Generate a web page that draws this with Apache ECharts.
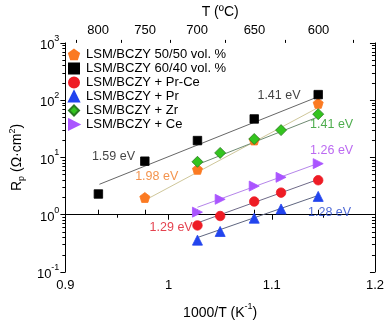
<!DOCTYPE html>
<html><head><meta charset="utf-8">
<script src="https://cdn.jsdelivr.net/npm/echarts@6/dist/echarts.min.js"></script>
<style>html,body{margin:0;padding:0;background:#fff}#c{width:387px;height:325px}</style>
</head><body><div id="c"></div>
<script>
// ---- data ----
const seriesNames = ['LSM/BCZY 50/50 vol. %','LSM/BCZY 60/40 vol. %','LSM/BCZY + Pr-Ce','LSM/BCZY + Pr','LSM/BCZY + Zr','LSM/BCZY + Ce'];

const x5050 = [0.977, 1.028, 1.083, 1.145];
const y5050 = [2.0, 6.2, 20.2, 88];
const x6040 = [0.932, 0.977, 1.028, 1.083, 1.145];
const y6040 = [2.3, 8.6, 19.7, 47, 125];
const xDoped = [1.028, 1.050, 1.083, 1.109, 1.145];
const yPrCe = [0.65, 0.95, 1.70, 2.43, 4.0];
const yPr   = [0.36, 0.51, 0.87, 1.26, 2.09];
const yZr   = [8.4, 12.0, 21, 30, 57];
const yCe   = [1.11, 1.86, 3.16, 4.5, 7.8];

// fitted lines (end points)
const fit5050X = [0.981, 1.146], fit5050Y = [1.95, 76];
const fit6040X = [0.933, 1.145], fit6040Y = [3.4, 115];
const fitPrCeX = [1.028, 1.146], fitPrCeY = [0.72, 4.2];
const fitPrX   = [1.028, 1.146], fitPrY   = [0.40, 2.2];
const fitZrX   = [1.028, 1.146], fitZrY   = [7.5, 52];
const fitCeX   = [1.028, 1.146], fitCeY   = [1.35, 8.0];

// activation energy annotations
const annoText = ['1.59 eV','1.98 eV','1.41 eV','1.41 eV','1.26 eV','1.28 eV','1.29 eV'];
const annoX    = [0.9466, 0.9885, 1.107, 1.158, 1.158, 1.156, 1.0025];
const annoY    = [10.2, 4.7, 121, 38, 13.4, 1.08, 0.605];
const annoColor= ['#111111','#f07820','#111111','#229922','#aa44ee','#2244cc','#dd1122'];

// top axis temperatures (ºC)
const topTemps = [800, 750, 700, 650, 600];
const topTempsMinor = [825, 775, 725, 675, 625, 575];

// ---- helpers ----
const toInvT = t => 1000 / (t + 273.15);
const pts = (xs, ys) => xs.map((v, i) => [v, ys[i]]);
const pentagon = 'path://M0,-10 L9.51,-3.09 L5.88,8.09 L-5.88,8.09 L-9.51,-3.09 Z';
const rightTri = 'path://M0,0 L10,5 L0,10 Z';
const FONT = 'Liberation Sans, Arial, sans-serif';

const groups = [
  {name: seriesNames[0], x: x5050, y: y5050, symbol: pentagon, size: 10, color: '#fb7a22', border: '#fb7a22', fx: fit5050X, fy: fit5050Y, fc: '#cfc79a'},
  {name: seriesNames[1], x: x6040, y: y6040, symbol: 'rect', size: 8.5, color: '#000000', border: '#000000', fx: fit6040X, fy: fit6040Y, fc: '#666666'},
  {name: seriesNames[2], x: xDoped, y: yPrCe, symbol: 'circle', size: 9.5, color: '#ee1c25', border: '#ee1c25', fx: fitPrCeX, fy: fitPrCeY, fc: '#6f6a88'},
  {name: seriesNames[3], x: xDoped, y: yPr, symbol: 'triangle', size: 10, color: '#2244ee', border: '#2244ee', fx: fitPrX, fy: fitPrY, fc: '#5f6680'},
  {name: seriesNames[4], x: xDoped, y: yZr, symbol: 'diamond', size: 11, color: '#33c41e', border: '#2a7a22', fx: fitZrX, fy: fitZrY, fc: '#6f8a72'},
  {name: seriesNames[5], x: xDoped, y: yCe, symbol: rightTri, size: 10, color: '#aa55ff', border: '#aa55ff', fx: fitCeX, fy: fitCeY, fc: '#b585ea'}
];

const series = [];
groups.forEach(g => {
  series.push({
    type: 'line', data: pts(g.fx, g.fy), symbol: 'none', silent: true, z: 2,
    lineStyle: {color: g.fc, width: 1}, xAxisIndex: 0, yAxisIndex: 0
  });
});
groups.forEach(g => {
  series.push({
    name: g.name, type: 'scatter', data: pts(g.x, g.y), symbol: g.symbol, symbolSize: g.size, z: 3,
    itemStyle: {color: g.color, borderColor: g.border, borderWidth: 0.8, opacity: 1},
    xAxisIndex: 0, yAxisIndex: 0
  });
});
series.push({
  type: 'scatter', silent: true, z: 4, symbolSize: 1, itemStyle: {color: 'transparent'},
  data: annoText.map((t, i) => ({name: t, value: [annoX[i], annoY[i]], label: {color: annoColor[i]}})),
  label: {show: true, position: 'inside', formatter: p => p.name, fontSize: 12.5, fontFamily: FONT}
});

const lineBlack = {lineStyle: {color: '#000', width: 1}};
const yMinor = [];
for (let n = -1; n < 3; n++) for (let k = 2; k <= 9; k++) yMinor.push(n + Math.log10(k));

const supLabel = v => {
  const e = Math.round(Math.log10(v));
  return '{b|10}{e|' + e + '}';
};
const supRich = {
  b: {fontSize: 13, fontFamily: FONT, color: '#000', lineHeight: 18, verticalAlign: 'bottom'},
  e: {fontSize: 9, fontFamily: FONT, color: '#000', lineHeight: 8, verticalAlign: 'top'}
};

const option = {
  animation: false,
  backgroundColor: '#fff',
  textStyle: {fontFamily: FONT},
  grid: {left: 55, right: 9, top: 38, bottom: 49},
  legend: {
    orient: 'vertical', left: 63, top: 43, itemWidth: 10, itemHeight: 10, itemGap: 1,
    data: seriesNames,
    textStyle: {fontSize: 13, color: '#000', fontFamily: FONT, padding: [0, 0, 0, 2]}
  },
  xAxis: [
    {
      type: 'value', position: 'bottom', min: 0.9, max: 1.2, interval: 0.1,
      axisLine: lineBlack, axisTick: {length: 5, lineStyle: {color: '#000'}},
      minorTick: {show: true, splitNumber: 2, length: 3, lineStyle: {color: '#000'}},
      axisLabel: {color: '#000', fontSize: 13, margin: 7, fontFamily: FONT, formatter: v => String(+v.toFixed(2))},
      splitLine: {show: false}, minorSplitLine: {show: false},
      name: '{a|1000/T (K}{s|-1}{a|)}', nameLocation: 'middle', nameGap: 30,
      nameTextStyle: {rich: {
        a: {fontSize: 14, fontFamily: FONT, color: '#000', lineHeight: 18, verticalAlign: 'bottom'},
        s: {fontSize: 9, fontFamily: FONT, color: '#000', lineHeight: 8, verticalAlign: 'top'}
      }}
    },
    {
      type: 'value', position: 'top', min: 0.9, max: 1.2,
      axisLine: lineBlack,
      axisTick: {length: 5, customValues: topTemps.map(toInvT), lineStyle: {color: '#000'}},
      axisLabel: {customValues: topTemps.map(toInvT), color: '#000', fontSize: 13, margin: 6, fontFamily: FONT,
        formatter: v => String(Math.round(1000 / v - 273.15))},
      splitLine: {show: false},
      name: 'T (ºC)', nameLocation: 'middle', nameGap: 22,
      nameTextStyle: {fontSize: 14, color: '#000', fontFamily: FONT}
    },
    {
      type: 'value', position: 'top', min: 0.9, max: 1.2,
      axisLine: {show: false},
      axisTick: {length: 3, customValues: topTempsMinor.map(toInvT), lineStyle: {color: '#000'}},
      axisLabel: {show: false}, splitLine: {show: false}
    }
  ],
  yAxis: [
    {
      type: 'log', position: 'left', min: 0.1, max: 1000, logBase: 10,
      axisLine: {show: true, lineStyle: {color: '#000', width: 1}},
      axisTick: {show: true, length: 5, lineStyle: {color: '#000'}},
      axisLabel: {margin: 6, formatter: supLabel, rich: supRich},
      splitLine: {show: false},
      name: '{a|R}{p|p}{a| (Ω·cm}{s|2}{a|)}', nameLocation: 'middle', nameGap: 37,
      nameTextStyle: {rich: {
        a: {fontSize: 14, fontFamily: FONT, color: '#000', lineHeight: 18, verticalAlign: 'middle'},
        p: {fontSize: 9, fontFamily: FONT, color: '#000', lineHeight: 8, verticalAlign: 'bottom'},
        s: {fontSize: 9, fontFamily: FONT, color: '#000', lineHeight: 8, verticalAlign: 'top'}
      }}
    },
    {
      type: 'value', position: 'left', min: -1, max: 3,
      axisLine: {show: false},
      axisTick: {show: true, length: 3, customValues: yMinor, lineStyle: {color: '#000'}},
      axisLabel: {show: false}, splitLine: {show: false}
    },
    {
      type: 'log', position: 'right', min: 0.1, max: 1000, logBase: 10,
      axisLine: {show: true, lineStyle: {color: '#000', width: 1}},
      axisTick: {show: true, inside: true, length: 5, lineStyle: {color: '#000'}},
      axisLabel: {show: false}, splitLine: {show: false}
    },
    {
      type: 'value', position: 'right', min: -1, max: 3,
      axisLine: {show: false},
      axisTick: {show: true, inside: true, length: 3, customValues: yMinor, lineStyle: {color: '#000'}},
      axisLabel: {show: false}, splitLine: {show: false}
    }
  ],
  series: series
};

const chart = echarts.init(document.getElementById('c'), null, {renderer: 'canvas'});
chart.setOption(option);
</script>
</body></html>
